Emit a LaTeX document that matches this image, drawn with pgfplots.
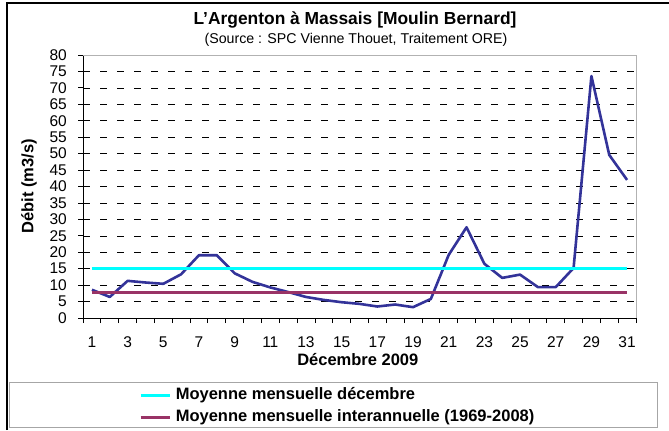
\documentclass[border=0pt]{standalone}
\usepackage{fontspec}
\setmainfont{Liberation Sans}
\usepackage{pgfplots}
\pgfplotsset{compat=1.18}
\definecolor{debit}{RGB}{51,51,153}
\definecolor{moydec}{RGB}{0,255,255}
\definecolor{moyint}{RGB}{153,51,102}

\begin{document}
\begin{tikzpicture}[x=1bp,y=1bp]
\useasboundingbox (0,0) rectangle (669,430);
% cadre et boite de legende
\draw[line width=2bp] (7,0) -- (7,427) -- (669,427);
\draw[gray!70, line width=0.8bp] (9,3) rectangle (657,48);
% titres
\node[font=\fontsize{17.4bp}{20bp}\selectfont\bfseries, anchor=base] at (355,405)
  {L'Argenton à Massais [Moulin Bernard]};
\node[font=\fontsize{14.2bp}{17bp}\selectfont, anchor=base] at (356,387)
  {(Source : SPC Vienne Thouet, Traitement ORE)};

\begin{axis}[
  at={(83bp,112bp)}, anchor=south west,
  scale only axis, width=553bp, height=263bp,
  xmin=0.5, xmax=31.5, ymin=0, ymax=80,
  axis lines*=left,
  axis line style={-, black, line width=0.8bp},
  xtick={1,3,...,31},
  ytick={0,5,...,80},
  minor xtick={0.5,1.5,...,31.5},
  major tick length=5bp, minor tick length=5bp,
  tick align=outside,
  tick style={black, line width=0.8bp},
  major x tick style={draw=none},
  ymajorgrids,
  major grid style={black, dash pattern=on 7bp off 10bp, line width=0.6bp},
  /pgf/number format/assume math mode=true,
  ticklabel style={font=\fontsize{15.5bp}{17bp}\selectfont, inner sep=0pt},
  yticklabel style={anchor=east, xshift=-11bp},
  xticklabel style={anchor=base, yshift=-24bp},
  xlabel={Décembre 2009},
  ylabel={Débit (m3/s)},
  xlabel style={at={(axis description cs:0.497,-0.1787)}, anchor=base,
    font=\fontsize{16.5bp}{19bp}\selectfont\bfseries},
  ylabel style={at={(axis description cs:-0.0976,0.5)}, rotate=0, anchor=center,
    font=\fontsize{16.5bp}{19bp}\selectfont\bfseries},
  legend style={at={(axis description cs:0.1013,-0.2624)}, anchor=north west,
    draw=none, fill=none, inner sep=0pt, row sep=6bp, column sep=5bp,
    font=\fontsize{16.5bp}{19bp}\selectfont\bfseries,
    nodes={inner sep=0pt, text height=12bp, text depth=4bp}},
  legend cell align=left,
  legend image code/.code={\draw[#1] (0bp,0bp) -- (29bp,0bp);},
  clip=false,
]
\draw[gray!60, line width=0.8bp] (rel axis cs:0,1) -- (rel axis cs:1,1) -- (rel axis cs:1,0);

\addplot[debit, line width=2.6bp, line join=round, forget plot] coordinates {
  (1,8.6) (2,6.4) (3,11.3) (4,10.8) (5,10.4) (6,13.3) (7,19.1) (8,19.1)
  (9,13.6) (10,11.0) (11,9.3) (12,7.9) (13,6.4) (14,5.5) (15,4.8) (16,4.3)
  (17,3.5) (18,4.1) (19,3.3) (20,5.8) (21,19.2) (22,27.6) (23,16.5) (24,12.2)
  (25,13.2) (26,9.4) (27,9.4) (28,15.2) (29,73.6) (30,49.6) (31,42.0)
};
\addplot[moydec, line width=2.6bp] coordinates {(1,15.1) (31,15.1)};
\addlegendentry{Moyenne mensuelle décembre}
\addplot[moyint, line width=2.6bp] coordinates {(1,7.7) (31,7.7)};
\addlegendentry{Moyenne mensuelle interannuelle (1969-2008)}
\end{axis}
\end{tikzpicture}
\end{document}
